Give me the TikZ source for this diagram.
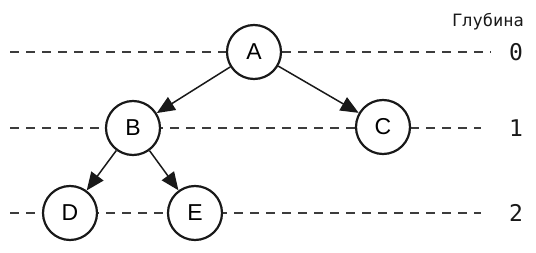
\documentclass[tikz,border=0pt]{standalone}
\usepackage{fontspec}
\setmainfont{Liberation Sans}
\newfontfamily\depthfont{DejaVu Sans Mono}
\usepackage{tikz}
\usetikzlibrary{arrows.meta}
\usepackage{xcolor}
\definecolor{treeink}{RGB}{25,25,25}
\definecolor{treegrey}{RGB}{60,60,60}
\tikzset{
    treenode/.style={circle, draw=treeink, line width=2.2pt, fill=white, minimum size=54pt, inner sep=0pt, font=\fontsize{23}{26}\selectfont},
    treearrow/.style={-{Triangle[length=18pt, width=15pt]}, line width=1.5pt, draw=treeink},
    levelline/.style={draw=treegrey, line width=1.3pt, dash pattern=on 9pt off 7pt},
    depthlabel/.style={font=\depthfont\fontsize{23}{26}\selectfont, text=treeink, inner sep=0pt},
    note/.style={font=\depthfont\fontsize{17}{20}\selectfont, text=treeink, inner sep=0pt}
}
\begin{document}
\begin{tikzpicture}[x=1pt,y=1pt]
    \useasboundingbox (0,0) rectangle (536,252);
    % depth levels
    \coordinate (w0) at (10,200);
    \coordinate (e0) at (491,200);
    \coordinate (w1) at (10,124);
    \coordinate (e1) at (481,124);
    \coordinate (w2) at (10,39);
    \coordinate (e2) at (481,39);
    \draw[levelline] (w0)--(e0);
    \draw[levelline] (w1)--(e1);
    \draw[levelline] (w2)--(e2);
    \node[note, anchor=east] (title) at (524,230) {Глубина};
    \node[depthlabel] (d0) at (516,200) {0};
    \node[depthlabel] (d1) at (516,124) {1};
    \node[depthlabel] (d2) at (516,39) {2};
    % tree
    \node[treenode] (a) at (254,200) {A};
    \node[treenode] (b) at (133,124) {B};
    \node[treenode] (c) at (383,125) {C};
    \node[treenode] (d) at (70,39) {D};
    \node[treenode] (e) at (195,39) {E};
    \draw[treearrow] (a)--(b);
    \draw[treearrow] (a)--(c);
    \draw[treearrow] (b)--(d);
    \draw[treearrow] (b)--(e);
\end{tikzpicture}
\end{document}
